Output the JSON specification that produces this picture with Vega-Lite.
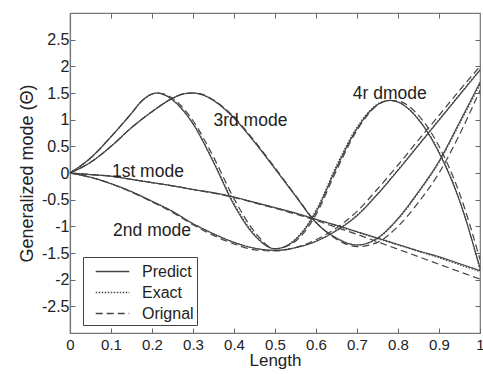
{
  "$schema": "https://vega.github.io/schema/vega-lite/v6.json",
  "width": 410,
  "height": 320,
  "autosize": {"type": "none"},
  "padding": {"left": 70, "top": 13, "right": 3, "bottom": 41},
  "background": "white",
  "config": {
    "view": {"stroke": "#777", "strokeWidth": 1.2},
    "font": "Liberation Sans",
    "axis": {
      "grid": false,
      "domainColor": "#777",
      "domainWidth": 1.2,
      "tickColor": "#666",
      "tickSize": -5,
      "labelColor": "#222",
      "labelFont": "Liberation Sans",
      "labelFontSize": 16,
      "labelFlush": false,
      "labelExpr": "'' + datum.value",
      "titleFont": "Liberation Sans",
      "titleFontSize": 18,
      "titleFontWeight": "normal",
      "titleColor": "#222"
    },
    "legend": {
      "orient": "none",
      "legendX": 13,
      "legendY": 244,
      "strokeColor": "#444",
      "fillColor": "white",
      "padding": 3,
      "labelFont": "Liberation Sans",
      "labelFontSize": 16,
      "labelColor": "#222",
      "symbolType": "M-1.6,0H1.6",
      "symbolSize": 441,
      "symbolOffset": 15,
      "symbolStrokeWidth": 1.3,
      "symbolStrokeColor": "#444",
      "symbolFillColor": "transparent",
      "labelOffset": 18,
      "rowPadding": 1
    }
  },
  "datasets": {
    "modes": [
      {"x": 0, "mode": "1st", "Predict": 0, "Exact": 0, "Orignal": 0},
      {"x": 0.05, "mode": "1st", "Predict": -0.03, "Exact": -0.03, "Orignal": -0.03},
      {"x": 0.1, "mode": "1st", "Predict": -0.06, "Exact": -0.06, "Orignal": -0.06},
      {"x": 0.15, "mode": "1st", "Predict": -0.12, "Exact": -0.12, "Orignal": -0.12},
      {"x": 0.2, "mode": "1st", "Predict": -0.18, "Exact": -0.18, "Orignal": -0.18},
      {"x": 0.25, "mode": "1st", "Predict": -0.24, "Exact": -0.24, "Orignal": -0.24},
      {"x": 0.3, "mode": "1st", "Predict": -0.31, "Exact": -0.31, "Orignal": -0.31},
      {"x": 0.35, "mode": "1st", "Predict": -0.37, "Exact": -0.37, "Orignal": -0.38},
      {"x": 0.4, "mode": "1st", "Predict": -0.45, "Exact": -0.45, "Orignal": -0.46},
      {"x": 0.45, "mode": "1st", "Predict": -0.55, "Exact": -0.55, "Orignal": -0.56},
      {"x": 0.5, "mode": "1st", "Predict": -0.65, "Exact": -0.65, "Orignal": -0.66},
      {"x": 0.55, "mode": "1st", "Predict": -0.75, "Exact": -0.76, "Orignal": -0.77},
      {"x": 0.6, "mode": "1st", "Predict": -0.87, "Exact": -0.87, "Orignal": -0.89},
      {"x": 0.65, "mode": "1st", "Predict": -0.98, "Exact": -0.99, "Orignal": -1.02},
      {"x": 0.7, "mode": "1st", "Predict": -1.1, "Exact": -1.11, "Orignal": -1.15},
      {"x": 0.75, "mode": "1st", "Predict": -1.22, "Exact": -1.23, "Orignal": -1.29},
      {"x": 0.8, "mode": "1st", "Predict": -1.34, "Exact": -1.35, "Orignal": -1.43},
      {"x": 0.85, "mode": "1st", "Predict": -1.46, "Exact": -1.47, "Orignal": -1.57},
      {"x": 0.9, "mode": "1st", "Predict": -1.57, "Exact": -1.59, "Orignal": -1.71},
      {"x": 0.95, "mode": "1st", "Predict": -1.7, "Exact": -1.72, "Orignal": -1.85},
      {"x": 1, "mode": "1st", "Predict": -1.83, "Exact": -1.85, "Orignal": -1.99},

      {"x": 0, "mode": "2nd", "Predict": 0, "Exact": 0, "Orignal": 0},
      {"x": 0.05, "mode": "2nd", "Predict": -0.08, "Exact": -0.08, "Orignal": -0.08},
      {"x": 0.1, "mode": "2nd", "Predict": -0.2, "Exact": -0.2, "Orignal": -0.2},
      {"x": 0.15, "mode": "2nd", "Predict": -0.35, "Exact": -0.35, "Orignal": -0.36},
      {"x": 0.2, "mode": "2nd", "Predict": -0.53, "Exact": -0.53, "Orignal": -0.54},
      {"x": 0.25, "mode": "2nd", "Predict": -0.72, "Exact": -0.72, "Orignal": -0.74},
      {"x": 0.3, "mode": "2nd", "Predict": -0.95, "Exact": -0.95, "Orignal": -0.97},
      {"x": 0.35, "mode": "2nd", "Predict": -1.14, "Exact": -1.14, "Orignal": -1.17},
      {"x": 0.4, "mode": "2nd", "Predict": -1.3, "Exact": -1.3, "Orignal": -1.33},
      {"x": 0.45, "mode": "2nd", "Predict": -1.41, "Exact": -1.41, "Orignal": -1.44},
      {"x": 0.5, "mode": "2nd", "Predict": -1.45, "Exact": -1.45, "Orignal": -1.46},
      {"x": 0.55, "mode": "2nd", "Predict": -1.4, "Exact": -1.4, "Orignal": -1.4},
      {"x": 0.6, "mode": "2nd", "Predict": -1.28, "Exact": -1.28, "Orignal": -1.25},
      {"x": 0.65, "mode": "2nd", "Predict": -1.08, "Exact": -1.07, "Orignal": -1.03},
      {"x": 0.7, "mode": "2nd", "Predict": -0.8, "Exact": -0.79, "Orignal": -0.72},
      {"x": 0.75, "mode": "2nd", "Predict": -0.4, "Exact": -0.39, "Orignal": -0.3},
      {"x": 0.8, "mode": "2nd", "Predict": 0.05, "Exact": 0.06, "Orignal": 0.15},
      {"x": 0.85, "mode": "2nd", "Predict": 0.52, "Exact": 0.53, "Orignal": 0.62},
      {"x": 0.9, "mode": "2nd", "Predict": 0.99, "Exact": 1.0, "Orignal": 1.08},
      {"x": 0.95, "mode": "2nd", "Predict": 1.46, "Exact": 1.47, "Orignal": 1.55},
      {"x": 1, "mode": "2nd", "Predict": 1.93, "Exact": 1.94, "Orignal": 2.0},

      {"x": 0, "mode": "3rd", "Predict": 0, "Exact": 0, "Orignal": 0},
      {"x": 0.05, "mode": "3rd", "Predict": 0.2, "Exact": 0.2, "Orignal": 0.2},
      {"x": 0.1, "mode": "3rd", "Predict": 0.5, "Exact": 0.5, "Orignal": 0.5},
      {"x": 0.15, "mode": "3rd", "Predict": 0.85, "Exact": 0.85, "Orignal": 0.85},
      {"x": 0.2, "mode": "3rd", "Predict": 1.15, "Exact": 1.15, "Orignal": 1.15},
      {"x": 0.25, "mode": "3rd", "Predict": 1.4, "Exact": 1.4, "Orignal": 1.4},
      {"x": 0.275, "mode": "3rd", "Predict": 1.48, "Exact": 1.48, "Orignal": 1.48},
      {"x": 0.3, "mode": "3rd", "Predict": 1.5, "Exact": 1.5, "Orignal": 1.5},
      {"x": 0.325, "mode": "3rd", "Predict": 1.46, "Exact": 1.46, "Orignal": 1.47},
      {"x": 0.35, "mode": "3rd", "Predict": 1.36, "Exact": 1.36, "Orignal": 1.37},
      {"x": 0.4, "mode": "3rd", "Predict": 1.03, "Exact": 1.03, "Orignal": 1.05},
      {"x": 0.45, "mode": "3rd", "Predict": 0.58, "Exact": 0.58, "Orignal": 0.6},
      {"x": 0.5, "mode": "3rd", "Predict": 0.08, "Exact": 0.08, "Orignal": 0.1},
      {"x": 0.55, "mode": "3rd", "Predict": -0.43, "Exact": -0.43, "Orignal": -0.42},
      {"x": 0.6, "mode": "3rd", "Predict": -0.93, "Exact": -0.93, "Orignal": -0.92},
      {"x": 0.65, "mode": "3rd", "Predict": -1.22, "Exact": -1.22, "Orignal": -1.24},
      {"x": 0.7, "mode": "3rd", "Predict": -1.35, "Exact": -1.35, "Orignal": -1.38},
      {"x": 0.75, "mode": "3rd", "Predict": -1.22, "Exact": -1.23, "Orignal": -1.3},
      {"x": 0.8, "mode": "3rd", "Predict": -0.85, "Exact": -0.87, "Orignal": -1.0},
      {"x": 0.85, "mode": "3rd", "Predict": -0.35, "Exact": -0.37, "Orignal": -0.55},
      {"x": 0.9, "mode": "3rd", "Predict": 0.22, "Exact": 0.2, "Orignal": 0.0},
      {"x": 0.95, "mode": "3rd", "Predict": 0.95, "Exact": 0.92, "Orignal": 0.72},
      {"x": 1, "mode": "3rd", "Predict": 1.7, "Exact": 1.66, "Orignal": 1.55},

      {"x": 0, "mode": "4th", "Predict": 0, "Exact": 0, "Orignal": 0},
      {"x": 0.05, "mode": "4th", "Predict": 0.28, "Exact": 0.28, "Orignal": 0.28},
      {"x": 0.1, "mode": "4th", "Predict": 0.68, "Exact": 0.68, "Orignal": 0.68},
      {"x": 0.15, "mode": "4th", "Predict": 1.12, "Exact": 1.12, "Orignal": 1.12},
      {"x": 0.175, "mode": "4th", "Predict": 1.35, "Exact": 1.35, "Orignal": 1.35},
      {"x": 0.2, "mode": "4th", "Predict": 1.48, "Exact": 1.48, "Orignal": 1.48},
      {"x": 0.21, "mode": "4th", "Predict": 1.5, "Exact": 1.5, "Orignal": 1.5},
      {"x": 0.225, "mode": "4th", "Predict": 1.48, "Exact": 1.48, "Orignal": 1.49},
      {"x": 0.25, "mode": "4th", "Predict": 1.37, "Exact": 1.37, "Orignal": 1.4},
      {"x": 0.3, "mode": "4th", "Predict": 0.92, "Exact": 0.93, "Orignal": 0.98},
      {"x": 0.35, "mode": "4th", "Predict": 0.2, "Exact": 0.22, "Orignal": 0.3},
      {"x": 0.4, "mode": "4th", "Predict": -0.6, "Exact": -0.57, "Orignal": -0.48},
      {"x": 0.45, "mode": "4th", "Predict": -1.17, "Exact": -1.15, "Orignal": -1.1},
      {"x": 0.5, "mode": "4th", "Predict": -1.42, "Exact": -1.42, "Orignal": -1.42},
      {"x": 0.55, "mode": "4th", "Predict": -1.25, "Exact": -1.24, "Orignal": -1.28},
      {"x": 0.6, "mode": "4th", "Predict": -0.73, "Exact": -0.7, "Orignal": -0.78},
      {"x": 0.65, "mode": "4th", "Predict": 0.1, "Exact": 0.14, "Orignal": 0.05},
      {"x": 0.7, "mode": "4th", "Predict": 0.83, "Exact": 0.86, "Orignal": 0.8},
      {"x": 0.75, "mode": "4th", "Predict": 1.28, "Exact": 1.29, "Orignal": 1.27},
      {"x": 0.78, "mode": "4th", "Predict": 1.36, "Exact": 1.36, "Orignal": 1.36},
      {"x": 0.8, "mode": "4th", "Predict": 1.33, "Exact": 1.33, "Orignal": 1.35},
      {"x": 0.85, "mode": "4th", "Predict": 1.0, "Exact": 1.01, "Orignal": 1.08},
      {"x": 0.9, "mode": "4th", "Predict": 0.38, "Exact": 0.4, "Orignal": 0.5},
      {"x": 0.95, "mode": "4th", "Predict": -0.52, "Exact": -0.5, "Orignal": -0.38},
      {"x": 1, "mode": "4th", "Predict": -1.78, "Exact": -1.82, "Orignal": -1.62}
    ],
    "labels": [
      {"x": 0.19, "y": 0.02, "label": "1st mode"},
      {"x": 0.2, "y": -1.09, "label": "2nd mode"},
      {"x": 0.44, "y": 0.98, "label": "3rd mode"},
      {"x": 0.78, "y": 1.48, "label": "4r dmode"}
    ]
  },
  "layer": [
    {
      "data": {"name": "modes"},
      "transform": [{"fold": ["Predict", "Exact", "Orignal"], "as": ["type", "y"]}],
      "mark": {"type": "line", "interpolate": "monotone", "strokeWidth": 1.2, "color": "#444"},
      "encoding": {
        "x": {"field": "x", "type": "quantitative", "scale": {"domain": [0, 1], "nice": false},
              "axis": {"orient": "bottom", "values": [0, 0.1, 0.2, 0.3, 0.4, 0.5, 0.6, 0.7, 0.8, 0.9, 1], "labelPadding": 9, "labelFontSize": 15, "title": "Length", "titleFontSize": 17, "titlePadding": 0}},
        "y": {"field": "y", "type": "quantitative", "scale": {"domain": [-3, 3], "nice": false, "zero": false},
              "axis": {"orient": "left", "values": [-2.5, -2, -1.5, -1, -0.5, 0, 0.5, 1, 1.5, 2, 2.5], "labelPadding": 6, "title": "Generalized mode (Θ)", "titlePadding": 5}},
        "strokeDash": {"field": "type", "type": "nominal",
                       "scale": {"domain": ["Predict", "Exact", "Orignal"], "range": [[1, 0], [1.5, 1.5], [7, 4]]},
                       "legend": {"title": null}},
        "detail": {"field": "mode", "type": "nominal"}
      }
    },
    {
      "data": {"name": "labels"},
      "mark": {"type": "text", "font": "Liberation Sans", "fontSize": 17.5, "color": "#222"},
      "encoding": {
        "x": {"field": "x", "type": "quantitative", "axis": null},
        "y": {"field": "y", "type": "quantitative", "axis": null},
        "text": {"field": "label"}
      }
    },
    {
      "data": {"name": "modes"},
      "mark": {"type": "point", "opacity": 0},
      "encoding": {
        "x": {"field": "x", "type": "quantitative",
              "axis": {"orient": "top", "values": [0.1, 0.2, 0.3, 0.4, 0.5, 0.6, 0.7, 0.8, 0.9], "labels": false, "title": null, "domain": false}},
        "y": {"field": "Predict", "type": "quantitative",
              "axis": {"orient": "right", "values": [-2.5, -2, -1.5, -1, -0.5, 0, 0.5, 1, 1.5, 2, 2.5], "labels": false, "title": null, "domain": false}}
      }
    }
  ],
  "resolve": {"axis": {"x": "independent", "y": "independent"}}
}
